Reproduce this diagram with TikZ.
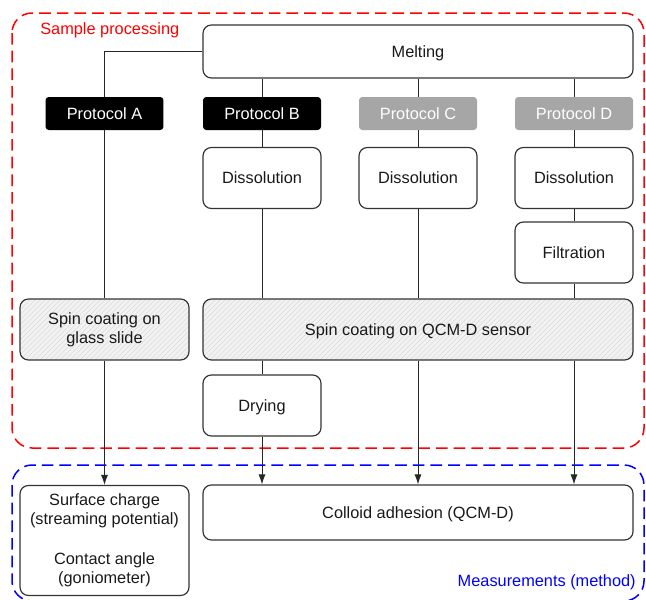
\documentclass[tikz,border=0pt]{standalone}
\usepackage{fontspec}
\setmainfont{Liberation Sans}
\usepackage{xcolor}
\usetikzlibrary{arrows.meta, patterns}
\tikzset{every picture/.style={x=0.6pt,y=-0.6pt,font=\fontsize{9.8}{11.4}\selectfont},
  box/.style={rectangle, rounded corners=5pt, draw=black!80, line width=0.7pt,
    minimum width=70.8pt, minimum height=36.6pt, inner sep=0pt, align=center, text=black!90},
  widebox/.style={box, minimum width=258pt},
  oneline/.style={text depth=0pt},
  proto/.style={rectangle, rounded corners=2pt, fill=black, text=white,
    minimum width=70.8pt, minimum height=19.8pt, inner sep=0pt},
  protogrey/.style={proto, fill=black!35},
  spin/.style={preaction={fill=black!5}, pattern=north east lines, pattern color=black!14},
  link/.style={draw=black!85, line width=0.6pt},
  arr/.style={link, -{Latex[length=6pt,width=4.2pt]}},
  frame/.style={line width=0.9pt, dash pattern=on 7pt off 3.6pt, rounded corners=12pt}}

\begin{document}
\begin{tikzpicture}
        \useasboundingbox (0,0) rectangle (646,600);

        % dashed groups
        \draw[frame, red] (12,13) rectangle (644,448);
        \draw[frame, blue] (12,465) rectangle (644,601);
        \node[text=red, anchor=west, inner sep=0pt] (lsample) at (40,30) {Sample processing};
        \node[text=blue, anchor=east, inner sep=0pt] (lmeas) at (636,582) {Measurements (method)};

        \node[widebox, oneline, minimum height=31.8pt] (melt) at (418,51.5) {Melting};

        \node[proto] (pa) at (104.5,113.5) {Protocol A};
        \node[proto] (pb) at (262,113.5) {Protocol B};
        \node[protogrey] (pc) at (418,113.5) {Protocol C};
        \node[protogrey] (pd) at (574,113.5) {Protocol D};

        \node[box] (db) at (262,178) {Dissolution};
        \node[box] (dc) at (418,178) {Dissolution};
        \node[box] (dd) at (574,178) {Dissolution};
        \node[box] (filt) at (574,252.5) {Filtration};

        \node[box, spin, minimum width=101.4pt] (sglass) at (104.5,329.5) {Spin coating on\\glass slide};
        \node[widebox, oneline, spin] (sqcm) at (418,329.5) {Spin coating on QCM-D sensor};
        \node[box, oneline] (dry) at (262,405.5) {Drying};

        \node[box, minimum width=101.4pt, minimum height=66pt] (surf) at (104.5,540.5)
          {Surface charge\\(streaming potential)\\[12.6pt]Contact angle\\(goniometer)};
        \node[widebox, oneline, minimum height=33pt] (coll) at (418,512.5) {Colloid adhesion (QCM-D)};

        \draw[link] (melt.west) -| (pa.north);
        \foreach \col/\from/\to in {
          pb/melt/pb, pc/melt/pc, pd/melt/pd,
          pb/pb/db, pc/pc/dc, pd/pd/dd,
          dd/dd/filt, pa/pa/sglass,
          db/db/sqcm, dc/dc/sqcm, filt/filt/sqcm,
          dry/sqcm/dry}
        \draw[link] (\col |- \from.south) -- (\col |- \to.north);

        \foreach \col/\from/\to in {
          sglass/sglass/surf, dry/dry/coll,
          dc/sqcm/coll, dd/sqcm/coll}
        \draw[arr] (\col |- \from.south) -- (\col |- \to.north);
      \end{tikzpicture}
\end{document}
